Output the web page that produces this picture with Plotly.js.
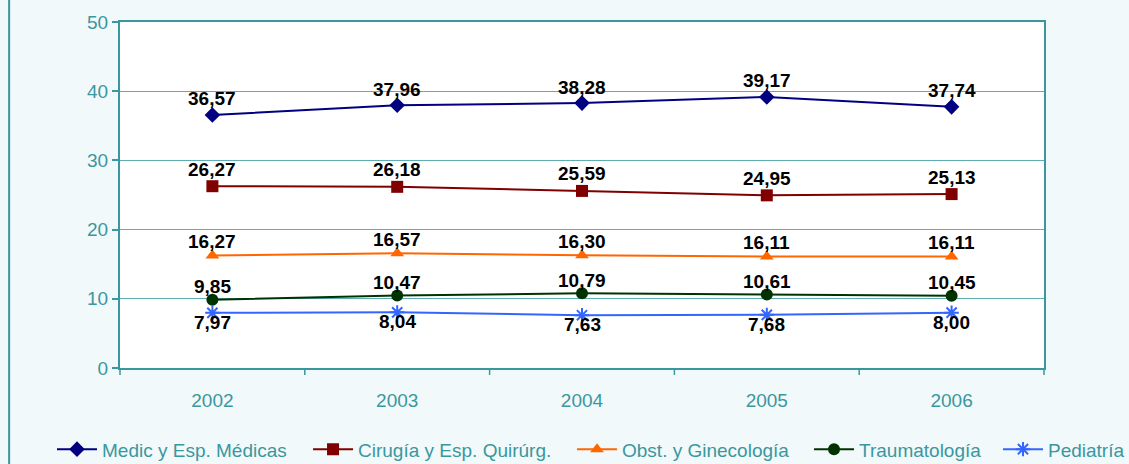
<!DOCTYPE html>
<html><head><meta charset="utf-8">
<script src="https://cdn.plot.ly/plotly-3.0.1.min.js"></script>
<style>html,body{margin:0;padding:0;background:#F2F9FB;}</style>
</head><body>
<div id="chart" style="width:1129px;height:464px;"></div>
<script>
var years = ["2002","2003","2004","2005","2006"];
var seriesNames = ["Medic y Esp. Médicas","Cirugía y Esp. Quirúrg.","Obst. y Ginecología","Traumatología","Pediatría"];
var medic = [36.57, 37.96, 38.28, 39.17, 37.74];
var cirugia = [26.27, 26.18, 25.59, 24.95, 25.13];
var obst = [16.27, 16.57, 16.30, 16.11, 16.11];
var trauma = [9.85, 10.47, 10.79, 10.61, 10.45];
var pediatria = [7.97, 8.04, 7.63, 7.68, 8.00];
var yTicks = [0, 10, 20, 30, 40, 50];

// styles
var colors = ["#000080", "#800000", "#FF6600", "#003300", "#3366FF"];
var symbols = ["diamond", "square", "triangle-up", "circle", "asterisk-open"];
var labelShift = [16, 17, 14, 13, -9.5];
var legendX = [-0.0736, 0.2035, 0.4892, 0.7457, 0.9502];
var data = [medic, cirugia, obst, trauma, pediatria];
function fmt(v){ return v.toFixed(2).replace('.', ','); }

var teal = '#3A979E';
var traces = data.map(function(vals, i){
  return {
    x: years, y: vals, name: seriesNames[i], type: 'scatter', mode: 'lines+markers',
    legend: i === 0 ? 'legend' : 'legend' + (i + 1),
    line: {color: colors[i], width: 2},
    marker: {symbol: symbols[i], color: colors[i], size: 12,
             line: {color: colors[i], width: i===4 ? 2 : 0}},
    cliponaxis: false
  };
});

var annotations = [];
data.forEach(function(vals, i){
  vals.forEach(function(v, j){
    // x given as the category index of years[j]
    annotations.push({x: years.indexOf(years[j]), y: v, xref: 'x', yref: 'y', text: fmt(v), showarrow: false,
      xanchor: 'center', yanchor: 'middle', yshift: labelShift[i],
      font: {family: 'Liberation Sans, Arial, sans-serif', size: 19, color: '#000000', weight: 'bold'}});
  });
});

var layout = {
  width: 1129, height: 464,
  paper_bgcolor: '#F2F9FB', plot_bgcolor: '#FFFFFF',
  margin: {l: 120, r: 85, t: 22, b: 96, autoexpand: false},
  font: {family: 'Liberation Sans, Arial, sans-serif', color: teal, size: 19},
  showlegend: true,
  annotations: annotations,
  xaxis: {type: 'category', range: [-0.5, 4.5], tickmode: 'array', tickvals: years, ticktext: years,
          ticks: '', ticklabelstandoff: 14, showgrid: false, showline: true, linecolor: teal, linewidth: 2, mirror: true,
          zeroline: false, tickfont: {size: 19, color: teal}, fixedrange: true},
  yaxis: {range: [0, 50], tickvals: yTicks, ticks: 'outside', ticklen: 6, tickcolor: teal, tickwidth: 2,
          showgrid: true, gridcolor: '#5DADB3', gridwidth: 1, showline: true, linecolor: teal, linewidth: 2,
          mirror: true, zeroline: false, tickfont: {size: 19, color: teal}, fixedrange: true},
  shapes: [
    {type: 'line', xref: 'paper', yref: 'paper', x0: -0.12, x1: -0.12, y0: -0.32, y1: 1.07,
     line: {color: teal, width: 2}}
  ]
};
legendX.forEach(function(lx, i){
  var key = i === 0 ? 'legend' : 'legend' + (i + 1);
  layout[key] = {orientation: 'h', x: lx, xanchor: 'left', y: -0.235, yanchor: 'middle',
    font: {size: 19, color: teal}, bgcolor: 'rgba(0,0,0,0)', itemwidth: 40};
});
[0.5, 1.5, 2.5, 3.5].forEach(function(p){
  layout.shapes.push({type: 'line', xref: 'x', yref: 'paper', x0: p, x1: p, y0: 0, y1: -0.02,
    line: {color: teal, width: 1.5}});
});
layout.shapes.push({type: 'line', xref: 'paper', yref: 'paper', x0: 1, x1: 1, y0: 0, y1: -0.02, line: {color: teal, width: 1.5}});
layout.shapes.push({type: 'line', xref: 'paper', yref: 'paper', x0: 0, x1: 0, y0: 0, y1: -0.02, line: {color: teal, width: 1.5}});

Plotly.newPlot('chart', traces, layout, {displayModeBar: false, staticPlot: true});
</script>
</body></html>
